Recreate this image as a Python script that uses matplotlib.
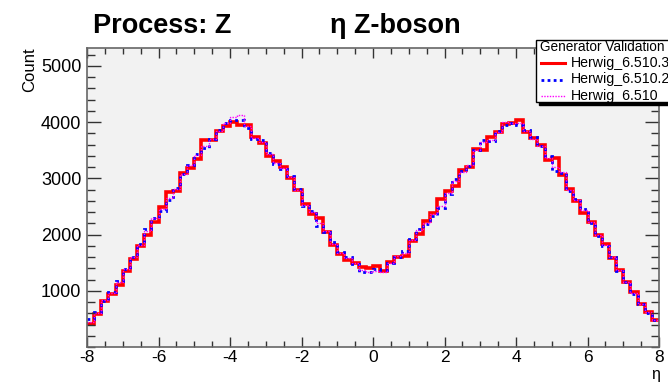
import numpy as np
import matplotlib
matplotlib.use("Agg")
import matplotlib.pyplot as plt
from matplotlib.patches import Rectangle
from matplotlib.lines import Line2D
from matplotlib.ticker import MultipleLocator, FixedLocator

plt.rcParams["font.family"] = ["Liberation Sans", "DejaVu Sans"]
plt.rcParams["axes.unicode_minus"] = False

# eta(Z) histograms, 80 bins from -8 to 8
eta_edges = np.linspace(-8, 8, 81)

herwig_6510_3 = [
    416, 593, 817, 947, 1106, 1360, 1566, 1791, 1991, 2227,
    2499, 2758, 2782, 3100, 3189, 3348, 3678, 3690, 3838, 3938,
    3997, 3956, 3944, 3737, 3631, 3395, 3307, 3207, 3012, 2788,
    2540, 2363, 2287, 2050, 1814, 1655, 1555, 1496, 1419, 1401,
    1437, 1360, 1519, 1596, 1625, 1891, 2009, 2245, 2392, 2640,
    2776, 2864, 3147, 3207, 3525, 3513, 3737, 3820, 3973, 3985,
    4032, 3820, 3720, 3602, 3336, 3366, 3059, 2817, 2599, 2392,
    2227, 1991, 1832, 1578, 1377, 1165, 977, 770, 623, 475,
]

herwig_6510_2 = [
    490, 623, 818, 977, 1183, 1390, 1596, 1832, 2097, 2304,
    2422, 2616, 2835, 3071, 3230, 3437, 3543, 3702, 3867, 3986,
    4044, 4032, 3897, 3702, 3690, 3454, 3248, 3159, 3041, 2805,
    2510, 2422, 2156, 2050, 1862, 1685, 1596, 1478, 1331, 1342,
    1390, 1377, 1496, 1596, 1714, 1920, 2097, 2186, 2333, 2481,
    2717, 2982, 3130, 3218, 3513, 3690, 3661, 3838, 3956, 3986,
    3956, 3867, 3737, 3572, 3395, 3130, 3100, 2776, 2629, 2451,
    2215, 1979, 1802, 1596, 1360, 1153, 947, 770, 611, 475,
]

herwig_6510 = [
    450, 610, 830, 960, 1150, 1380, 1610, 1810, 2060, 2290,
    2460, 2660, 2810, 3080, 3230, 3420, 3580, 3700, 3850, 3990,
    4100, 4120, 3930, 3720, 3650, 3430, 3280, 3180, 3030, 2800,
    2520, 2400, 2200, 2060, 1840, 1670, 1580, 1490, 1370, 1330,
    1360, 1330, 1500, 1620, 1680, 1900, 2080, 2210, 2370, 2500,
    2740, 2950, 3120, 3230, 3500, 3640, 3680, 3830, 4000, 3990,
    3980, 3840, 3700, 3580, 3370, 3200, 3110, 2800, 2620, 2430,
    2230, 1990, 1820, 1600, 1370, 1160, 960, 770, 615, 475,
]

legend_labels = ["Herwig_6.510.3", "Herwig_6.510.2", "Herwig_6.510"]
y_ticks = [1000, 2000, 3000, 4000, 5000]

W, H = 668, 383
fig = plt.figure(figsize=(W / 100, H / 100), dpi=100)
fig.patch.set_facecolor("white")

ax = fig.add_axes((87 / W, 1 - 347 / H, 572 / W, 299 / H))
ax.set_facecolor("#f2f2f2")

ax.stairs(herwig_6510_3, eta_edges, baseline=None, color="red", lw=2.6)
ax.stairs(herwig_6510_2, eta_edges, baseline=None, color="blue", lw=2.0,
          linestyle=(0, (1, 1.4)))
ax.stairs(herwig_6510, eta_edges, baseline=None, color="magenta", lw=1.0,
          linestyle=(0, (1, 1)))

ax.set_xlim(-8, 8)
ax.set_ylim(0, 5320)
ax.xaxis.set_major_locator(MultipleLocator(2))
ax.xaxis.set_minor_locator(MultipleLocator(0.5))
ax.yaxis.set_major_locator(FixedLocator(y_ticks))
ax.yaxis.set_minor_locator(MultipleLocator(200))

ax.tick_params(which="both", direction="in", top=True, right=True,
               color="#333333", width=1.0, labelsize=13)
ax.tick_params(axis="x", which="major", length=7, pad=2.5, labelsize=12.5)
ax.tick_params(axis="x", which="minor", length=4)
ax.tick_params(axis="y", which="major", length=10, pad=4)
ax.tick_params(axis="y", which="minor", length=6)
for s in ax.spines.values():
    s.set_color("#666666")
    s.set_linewidth(1.2)

# titles and axis labels
fig.text(93 / W, 1 - 33 / H, "Process: Z", fontsize=19.5,
         fontweight="bold", va="baseline")
fig.text(330 / W, 1 - 33 / H, "η Z-boson", fontsize=19.5,
         fontweight="bold", va="baseline")
fig.text(30 / W, 1 - 47 / H, "Count", rotation=90, fontsize=12,
         ha="center", va="top")
fig.text(656 / W, 1 / H, "η", fontsize=11.5, ha="center", va="bottom")

# legend box (cut off at the right edge like the original)
bx, by_top, by_bot = 536, 40, 102
fig.patches.append(Rectangle(((bx + 3) / W, 1 - (by_bot + 3) / H),
                             200 / W, (by_bot - by_top) / H,
                             transform=fig.transFigure, facecolor="black",
                             edgecolor="black", zorder=5))
fig.patches.append(Rectangle((bx / W, 1 - by_bot / H), 200 / W,
                             (by_bot - by_top) / H,
                             transform=fig.transFigure, facecolor="white",
                             edgecolor="black", lw=1.0, zorder=6))
fig.text(540 / W, 1 - 47 / H, "Generator Validation", fontsize=9.8,
         va="center", zorder=7)
styles = [
    dict(color="red", lw=2.2),
    dict(color="blue", lw=2.0, linestyle=(0, (1, 1.2))),
    dict(color="magenta", lw=1.0, linestyle=(0, (1, 1))),
]
for i, (lab, st) in enumerate(zip(legend_labels, styles)):
    yy = 1 - (63 + 16.5 * i) / H
    fig.add_artist(Line2D([541 / W, 565 / W], [yy, yy],
                          transform=fig.transFigure, zorder=7, **st))
    fig.text(571 / W, yy, lab, fontsize=10.2, va="center", zorder=7)

fig.savefig("out.png", dpi=100)
